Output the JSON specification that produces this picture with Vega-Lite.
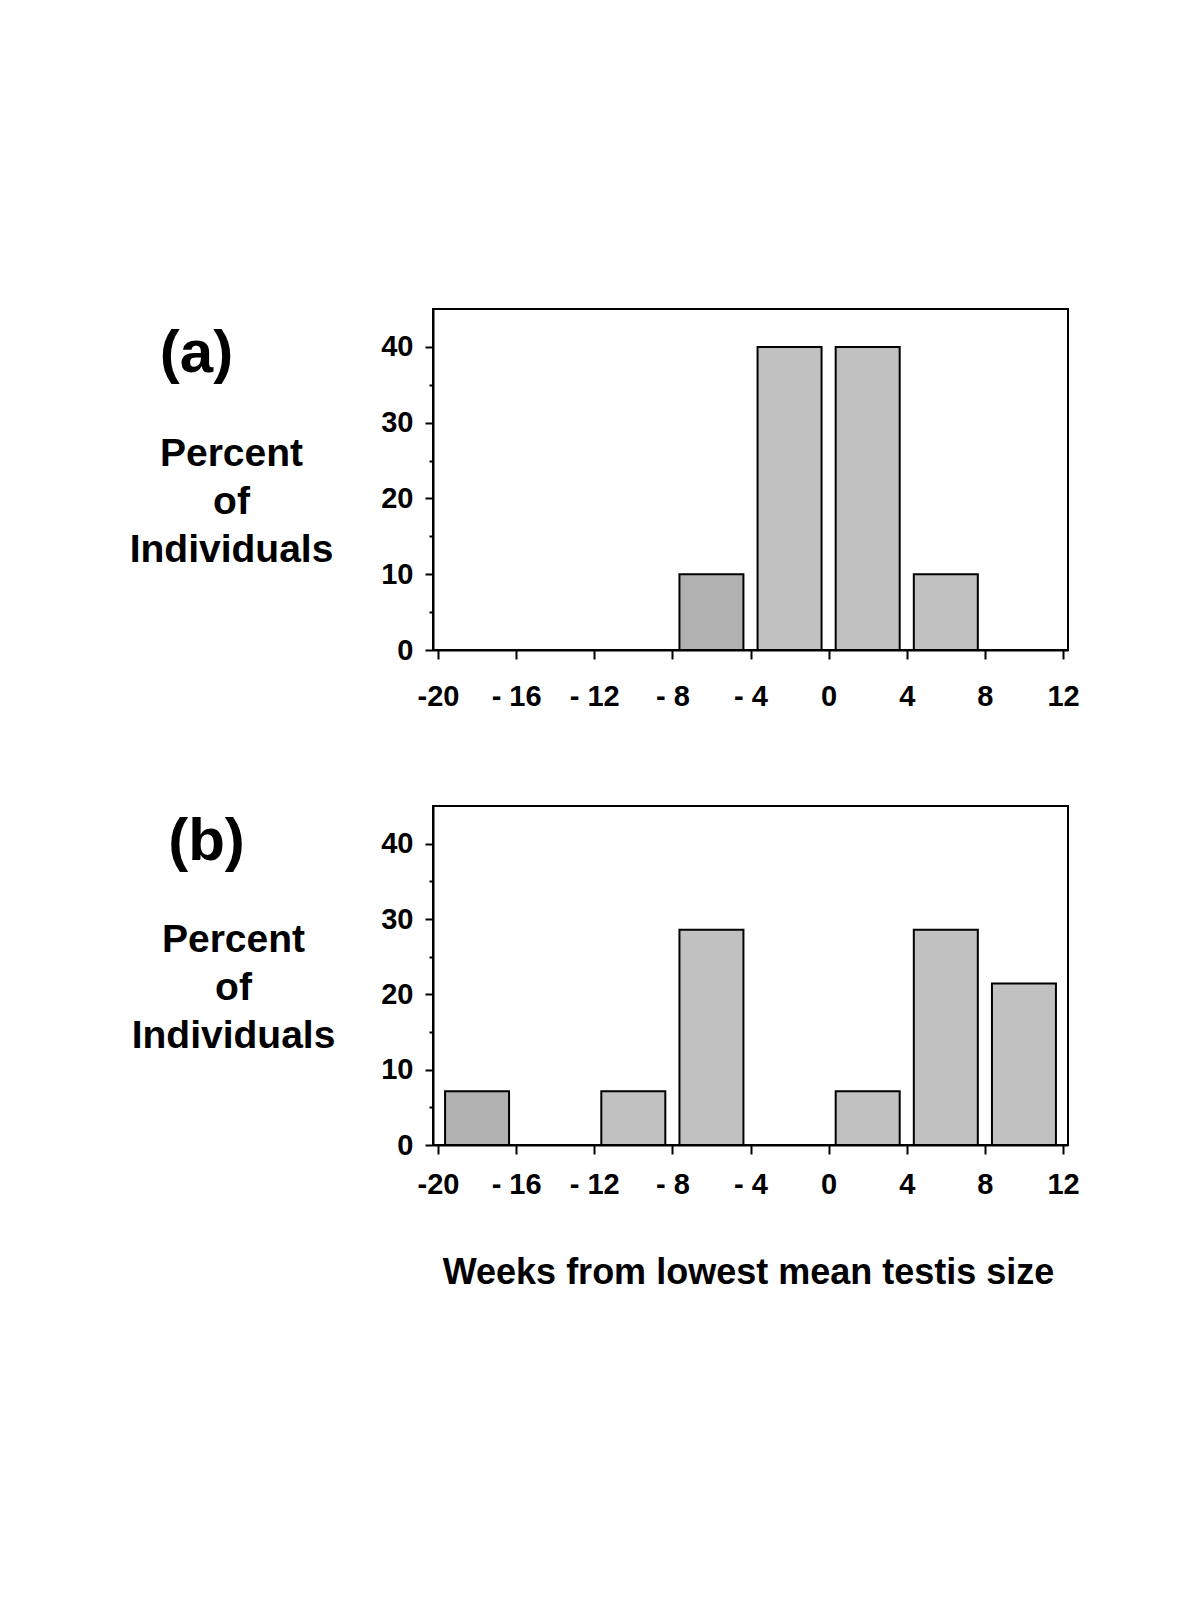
{
  "$schema": "https://vega.github.io/schema/vega-lite/v6.json",
  "background": "white",
  "padding": {"left": 128, "top": 308, "right": 10, "bottom": 10},
  "datasets": {
    "panelA": [
      {"week": -6, "percent": 10},
      {"week": -2, "percent": 40},
      {"week": 2, "percent": 40},
      {"week": 6, "percent": 10}
    ],
    "panelB": [
      {"week": -18, "percent": 7.14},
      {"week": -10, "percent": 7.14},
      {"week": -6, "percent": 28.57},
      {"week": 2, "percent": 7.14},
      {"week": 6, "percent": 28.57},
      {"week": 10, "percent": 21.43}
    ]
  },
  "config": {
    "font": "Liberation Sans",
    "view": {"stroke": "black", "strokeWidth": 2},
    "axis": {
      "grid": false,
      "domainColor": "black",
      "domainWidth": 2,
      "tickColor": "black",
      "tickWidth": 2,
      "labelFont": "Liberation Sans",
      "labelFontWeight": "bold",
      "labelFontSize": 29,
      "labelColor": "black",
      "titleFont": "Liberation Sans",
      "titleFontWeight": "bold",
      "titleColor": "black"
    }
  },
  "spacing": 93,
  "vconcat": [
    {
      "width": 635,
      "height": 341,
      "data": {"name": "panelA"},
      "layer": [
        {
          "mark": {"type": "bar", "width": 64, "stroke": "black", "strokeWidth": 2},
          "encoding": {
            "x": {"field": "week", "type": "quantitative",
              "scale": {"domain": [-20, 12], "nice": false, "zero": false},
              "axis": {"values": [-20, -16, -12, -8, -4, 0, 4, 8, 12], "tickSize": 9, "labelPadding": 23, "labelBaseline": "top",
                "labelExpr": "datum.value < 0 ? (datum.value == -20 ? '-' : '- ') + abs(datum.value) : '' + datum.value", "title": null}},
            "y": {"field": "percent", "type": "quantitative",
              "scale": {"domain": [0, 45], "nice": false},
              "axis": {"values": [0, 10, 20, 30, 40], "tickSize": 8, "labelPadding": 12,
                "title": ["Percent", "of", "Individuals"], "titleAngle": 0, "titleAlign": "center", "titleBaseline": "alphabetic",
                "titleX": -202, "titleY": 156, "titleFontSize": 39, "titleLineHeight": 48}},
            "color": {"condition": {"test": "datum.week === -6", "value": "#b1b1b1"}, "value": "#c1c1c1"}
          }
        },
        {
          "mark": {"type": "rule", "opacity": 0},
          "encoding": {
            "y": {"field": "percent", "type": "quantitative",
              "axis": {"orient": "left", "values": [5, 15, 25, 35], "tickSize": 4, "labels": false, "domain": false,
                "title": "(a)", "titleAngle": 0, "titleAlign": "center", "titleBaseline": "alphabetic",
                "titleX": -237, "titleY": 62, "titleFontSize": 60}}
          }
        }
      ],
      "resolve": {"axis": {"y": "independent"}}
    },
    {
      "width": 635,
      "height": 339,
      "data": {"name": "panelB"},
      "layer": [
        {
          "mark": {"type": "bar", "width": 64, "stroke": "black", "strokeWidth": 2},
          "encoding": {
            "x": {"field": "week", "type": "quantitative",
              "scale": {"domain": [-20, 12], "nice": false, "zero": false},
              "axis": {"values": [-20, -16, -12, -8, -4, 0, 4, 8, 12], "tickSize": 9, "labelPadding": 16, "labelBaseline": "top",
                "labelExpr": "datum.value < 0 ? (datum.value == -20 ? '-' : '- ') + abs(datum.value) : '' + datum.value",
                "title": "Weeks from lowest mean testis size", "titleFontSize": 36, "titleBaseline": "alphabetic", "titleX": 315, "titleY": 138, "titleAlign": "center"}},
            "y": {"field": "percent", "type": "quantitative",
              "scale": {"domain": [0, 45], "nice": false},
              "axis": {"values": [0, 10, 20, 30, 40], "tickSize": 8, "labelPadding": 12,
                "title": ["Percent", "of", "Individuals"], "titleAngle": 0, "titleAlign": "center", "titleBaseline": "alphabetic",
                "titleX": -200, "titleY": 145, "titleFontSize": 39, "titleLineHeight": 48}},
            "color": {"condition": {"test": "datum.week === -18", "value": "#b1b1b1"}, "value": "#c1c1c1"}
          }
        },
        {
          "mark": {"type": "rule", "opacity": 0},
          "encoding": {
            "y": {"field": "percent", "type": "quantitative",
              "axis": {"orient": "left", "values": [5, 15, 25, 35], "tickSize": 4, "labels": false, "domain": false,
                "title": "(b)", "titleAngle": 0, "titleAlign": "center", "titleBaseline": "alphabetic",
                "titleX": -227, "titleY": 53, "titleFontSize": 60}}
          }
        }
      ],
      "resolve": {"axis": {"y": "independent"}}
    }
  ]
}
